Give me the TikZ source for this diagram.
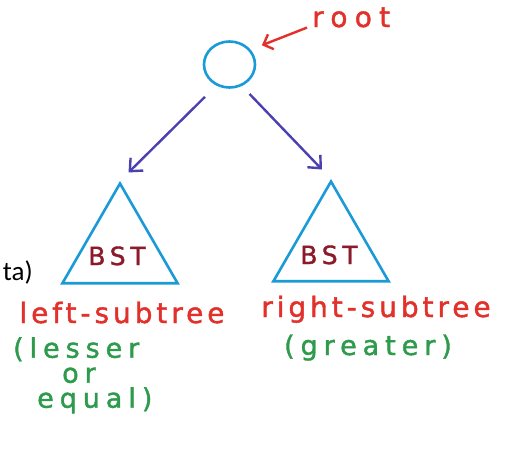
\documentclass[tikz,border=0pt]{standalone}
\usepackage{fontspec}
\setmainfont{DejaVu Sans}
\newfontfamily\slidefont{Carlito}
\newfontfamily\handfont[LetterSpace=14,FakeBold=1.5]{DejaVu Sans}
\newfontfamily\widehand[LetterSpace=22,FakeBold=1.5]{DejaVu Sans}
\newfontfamily\widerhand[LetterSpace=26,FakeBold=1.5]{DejaVu Sans}
\newfontfamily\bsthand[LetterSpace=19,FakeBold=1.5]{DejaVu Sans}
\usetikzlibrary{arrows.meta,shapes.geometric,positioning}

\definecolor{treeblue}{HTML}{1A9AD6}
\definecolor{linkblue}{HTML}{4A40B0}
\definecolor{notered}{HTML}{E2302A}
\definecolor{notegreen}{HTML}{2E9A4C}
\definecolor{bstred}{HTML}{8B1A2A}

\begin{document}
\begin{tikzpicture}[x=1pt, y=-1pt,
    every node/.style={inner sep=0pt},
    treenode/.style={ellipse, draw=treeblue, line width=2.6pt, minimum width=51pt, minimum height=46pt},
    subtree/.style={regular polygon, regular polygon sides=3, draw=treeblue, line width=2.6pt, minimum size=133pt},
    bst/.style={text=bstred, anchor=base, font=\bsthand\fontsize{25}{25}\selectfont},
    link/.style={draw=linkblue, line width=2.4pt, -{Straight Barb[length=10pt,width=18pt]}},
    pointer/.style={draw=notered, line width=2.4pt, -{Straight Barb[length=8pt,width=16pt]}},
    redtext/.style={text=notered, anchor=base, font=\handfont\fontsize{28}{28}\selectfont},
    greentext/.style={text=notegreen, font=\widehand\fontsize{27}{25}\selectfont}]
  \useasboundingbox (0,0) rectangle (509,450);

  \node[treenode] (root) at (229.5,64.5) {};
  \node[redtext, anchor=base west, font=\widerhand\fontsize{28}{28}\selectfont] (rootlabel) at (312,27) {root};

  \node[subtree] (lefttree) at (120,250) {};
  \node[subtree] (righttree) at (331,248) {};
  \node[bst] (leftbst) at (117,265) {BST};
  \node[bst] (rightbst) at (329,264) {BST};

  % labels under the subtrees
  \node[redtext] (leftname) at (122,323) {left-subtree};
  \node[redtext] (rightname) at (376,317) {right-subtree};
  \node[greentext, align=left, anchor=north west] (lesser) at (13,337)
    {(lesser\\\hspace{49pt}or\\\hspace{24pt}equal)};
  \node[greentext, anchor=base] (greater) at (368,355) {(greater)};

  \node[anchor=east, font=\slidefont\fontsize{27}{27}\selectfont] (cut) at (33,272) {ta)};

  % edges
  \draw[link, shorten <=16pt, shorten >=12pt] (root.-122) -- (lefttree.corner 1);
  \draw[link, shorten <=11pt, shorten >=13pt] (root.-60) -- (righttree.corner 1);
  \draw[pointer, shorten >=12pt] ([xshift=-5pt]rootlabel.south west) -- (root.35);
\end{tikzpicture}
\end{document}
